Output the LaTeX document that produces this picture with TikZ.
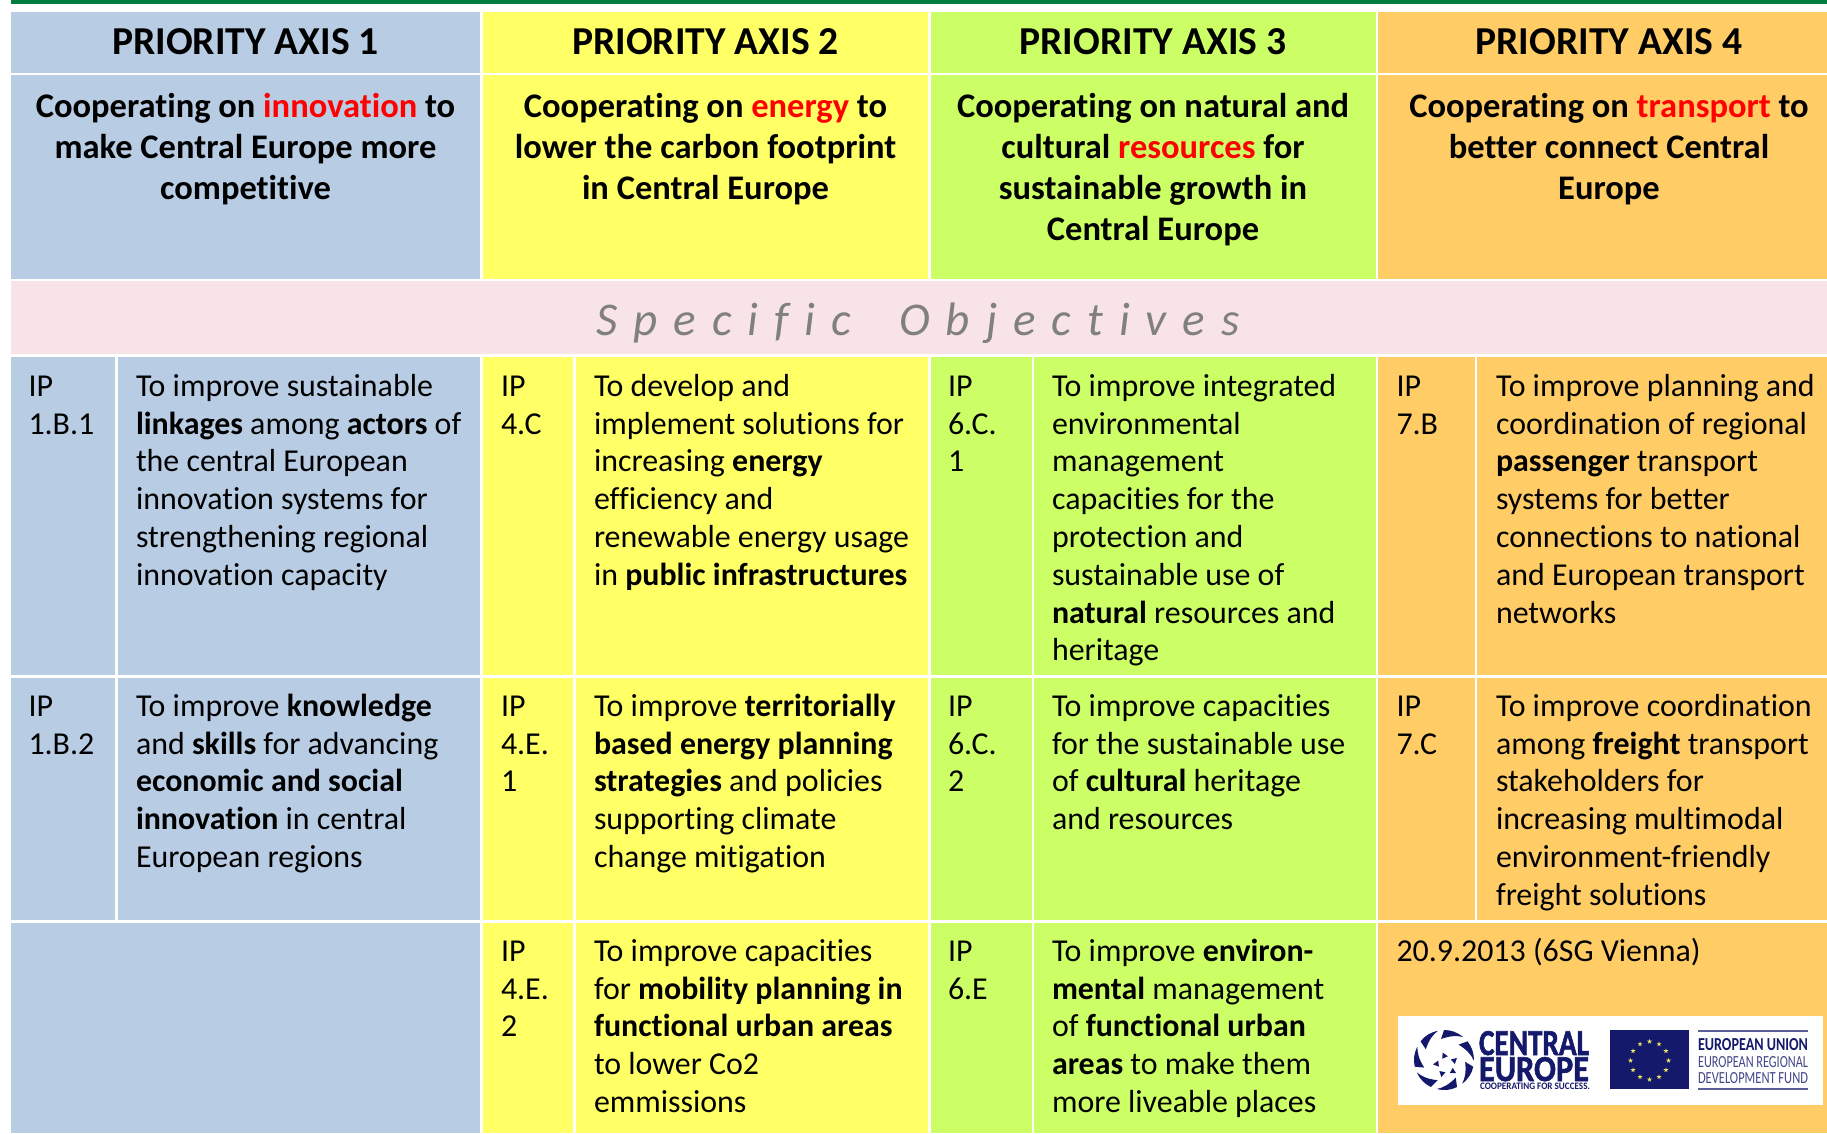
\documentclass[tikz,border=0pt]{standalone}
\usepackage{fontspec}
\usepackage{graphicx}
\usetikzlibrary{calc}
\setmainfont[Ligatures={NoCommon}]{Carlito}
\newfontfamily\heavyfont[Ligatures={NoCommon},BoldFeatures={FakeBold=1.6}]{Carlito}
\definecolor{axA}{HTML}{B8CCE4}
\definecolor{axB}{HTML}{FFFF66}
\definecolor{axC}{HTML}{CCFF66}
\definecolor{axD}{HTML}{FFCC66}
\definecolor{pinkband}{HTML}{F8E4E7}
\definecolor{topbar}{HTML}{007C3E}
\definecolor{navy}{HTML}{14196B}
\definecolor{euyellow}{HTML}{E8E860}
\definecolor{hl}{HTML}{FF0000}
\newcommand{\hb}[1]{\textbf{#1}}
\newcommand{\rd}[1]{\textcolor{hl}{#1}}
\tikzset{
  x=1pt,y=-1pt,
  bodytxt/.style={anchor=north west,inner sep=0pt,outer sep=0pt,align=left,font=\fontsize{31.9}{37.8}\selectfont},
  axishead/.style={anchor=base,inner sep=0pt,font=\fontsize{39.6}{41}\selectfont\bfseries},
  axissub/.style={anchor=north,inner sep=0pt,align=center,font=\fontsize{34.5}{41}\selectfont\bfseries},
  logotxt/.style={inner sep=0pt,outer sep=0pt,anchor=north west,text=navy},
}
\begin{document}
\begin{tikzpicture}
\useasboundingbox (0,0) rectangle (1827,1133);
\fill[white] (0,0) rectangle (1827,1133);
\fill[topbar] (11,0) rectangle (1827,4);
% column fills
\foreach \a/\b/\c in {11/480.3/axA,483/928/axB,931/1375.7/axC,1378/1827/axD}{
  \fill[\c] (\a,12) rectangle (\b,72.7);
  \fill[\c] (\a,75.2) rectangle (\b,278.7);
  \fill[\c] (\a,922.5) rectangle (\b,1133);
}
\fill[pinkband] (11,281) rectangle (1827,354);
\foreach \a/\m/\n/\b/\c in {11/115/118/480.3/axA,483/573.3/576/928/axB,931/1031.5/1034/1375.7/axC,1378/1474.7/1477/1827/axD}{
  \foreach \t/\u in {356.7/675,677.5/920}{
    \fill[\c] (\a,\t) rectangle (\m,\u);
    \fill[\c] (\n,\t) rectangle (\b,\u);
  }
}
\fill[white] (573.3,922.5) rectangle (576,1133);
\fill[white] (1031.5,922.5) rectangle (1034,1133);
% headings
\node[axishead] (h1) at (245.5,54.8) {PRIORITY AXIS 1};
\node[axishead] (h2) at (705.5,54.8) {PRIORITY AXIS 2};
\node[axishead] (h3) at (1153,54.8) {PRIORITY AXIS 3};
\node[axishead] (h4) at (1609,54.8) {PRIORITY AXIS 4};
\node[axissub] (s1) at (245.5,88.5) {\strut Cooperating on \rd{innovation} to\\make Central Europe more\\competitive};
\node[axissub] (s2) at (705.5,88.5) {\strut Cooperating on \rd{energy} to\\lower the carbon footprint\\in Central Europe};
\node[axissub] (s3) at (1153,88.5) {\strut Cooperating on natural and\\cultural \rd{resources} for\\sustainable growth in\\Central Europe};
\node[axissub] (s4) at (1609,88.5) {\strut Cooperating on \rd{transport} to\\better connect Central\\Europe};
\node[inner sep=0pt,anchor=base,text=black!50] (so) at (918,335) {\fontsize{47}{47}\selectfont\itshape\spaceskip=16pt S p e c i f i c \ \ O b j e c t i v e s};
% row 1
\node[bodytxt] (ipA) at (28.5,369.9) {\strut IP\\1.B.1};
\node[bodytxt] (txA) at (136,369.9) {\strut To improve sustainable\\\hb{linkages} among \hb{actors} of\\the central European\\innovation systems for\\strengthening regional\\innovation capacity};
\node[bodytxt] (ipB) at (501,369.9) {\strut IP\\4.C};
\node[bodytxt] (txB) at (594,369.9) {\strut To develop and\\implement solutions for\\increasing \hb{energy}\\efficiency and\\renewable energy usage\\in \hb{public infrastructures}};
\node[bodytxt] (ipC) at (948,369.9) {\strut IP\\6.C.\\1};
\node[bodytxt] (txC) at (1052,369.9) {\strut To improve integrated\\environmental\\management\\capacities for the\\protection and\\sustainable use of\\\hb{natural} resources and\\heritage};
\node[bodytxt] (ipD) at (1396.5,369.9) {\strut IP\\7.B};
\node[bodytxt] (txD) at (1496,369.9) {\strut To improve planning and\\coordination of regional\\\hb{passenger} transport\\systems for better\\connections to national\\and European transport\\networks};
% row 2
\node[bodytxt] (ipE) at (28.5,689.9) {\strut IP\\1.B.2};
\node[bodytxt] (txE) at (136,689.9) {\strut To improve \hb{knowledge}\\and \hb{skills} for advancing\\\hb{economic and social}\\\hb{innovation} in central\\European regions};
\node[bodytxt] (ipF) at (501,689.9) {\strut IP\\4.E.\\1};
\node[bodytxt] (txF) at (594,689.9) {\strut To improve \hb{territorially}\\\hb{based energy planning}\\\hb{strategies} and policies\\supporting climate\\change mitigation};
\node[bodytxt] (ipG) at (948,689.9) {\strut IP\\6.C.\\2};
\node[bodytxt] (txG) at (1052,689.9) {\strut To improve capacities\\for the sustainable use\\of \hb{cultural} heritage\\and resources};
\node[bodytxt] (ipH) at (1396.5,689.9) {\strut IP\\7.C};
\node[bodytxt] (txH) at (1496,689.9) {\strut To improve coordination\\among \hb{freight} transport\\stakeholders for\\increasing multimodal\\environment-friendly\\freight solutions};
% row 3
\node[bodytxt] (ipI) at (501,934.9) {\strut IP\\4.E.\\2};
\node[bodytxt] (txI) at (594,934.9) {\strut To improve capacities\\for \hb{mobility planning in}\\\hb{functional urban areas}\\to lower Co2\\emmissions};
\node[bodytxt] (ipJ) at (948,934.9) {\strut IP\\6.E};
\node[bodytxt] (txJ) at (1052,934.9) {\strut To improve \hb{environ-}\\\hb{mental} management\\of \hb{functional urban}\\\hb{areas} to make them\\more liveable places};
\node[bodytxt] (dt) at (1396.5,934.9) {\strut 20.9.2013 (6SG Vienna)};
% logo
\fill[white] (1398,1016) rectangle (1823,1105);
\foreach \k in {0,...,6}{
  \fill[navy,rotate around={\k*51.4:(1444,1060)}] (1444,1030) .. controls (1451,1030) and (1457,1032) .. (1463,1037) .. controls (1457,1035.5) and (1451,1035.5) .. (1441,1039) -- cycle;
}
\foreach \k in {0,...,4}{
  \fill[navy,rotate around={\k*72+15:(1446,1065)}] (1446,1052) -- (1450,1057) -- (1444,1058) -- cycle;
}
\node[logotxt] (lc1) at (1479,1031) {\resizebox{110pt}{24pt}{\heavyfont\bfseries CENTRAL}};
\node[logotxt] (lc2) at (1479,1057) {\resizebox{110pt}{24pt}{\heavyfont\bfseries EUROPE}};
\node[logotxt] (lc3) at (1480,1083) {\resizebox{110pt}{6.5pt}{\bfseries COOPERATING FOR SUCCESS.}};
\fill[navy] (1610,1030) rectangle (1689,1089);
\foreach \k in {0,...,11}{
  \fill[euyellow] ($(1649.5,1060.5)+(\k*30:19)$) ++(0,-2.6)
   -- ++(72:5) -- ++(216:5) -- ++(0:5) -- ++(144:5) -- cycle;
}
\fill[navy!70] (1698,1030) rectangle (1808,1032);
\fill[navy!70] (1698,1088) rectangle (1808,1090);
\node[logotxt] (le1) at (1698,1038) {\resizebox{110pt}{12pt}{\bfseries EUROPEAN UNION}};
\node[logotxt,text=navy!80] (le2) at (1698,1056) {\resizebox{110pt}{11pt}{EUROPEAN REGIONAL}};
\node[logotxt,text=navy!80] (le3) at (1698,1072) {\resizebox{110pt}{11pt}{DEVELOPMENT FUND}};
\end{tikzpicture}
\end{document}
